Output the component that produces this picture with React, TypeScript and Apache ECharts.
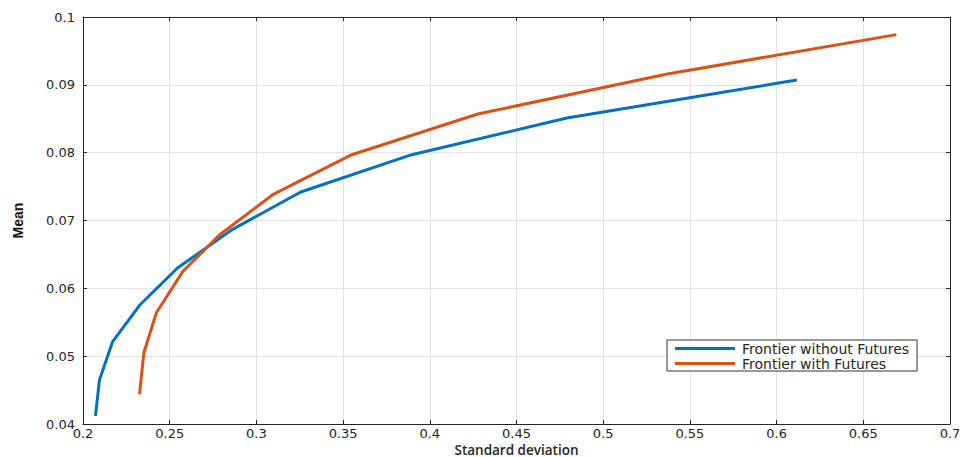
import React, { useEffect, useRef } from "react";
import * as echarts from "echarts";

const sdWithout = [0.2072, 0.2095, 0.217, 0.2326, 0.2545, 0.2863, 0.3256, 0.3896, 0.479, 0.6117];
const meanWithout = [0.0412, 0.0465, 0.0521, 0.0575, 0.063, 0.0687, 0.0742, 0.0797, 0.0851, 0.0907];
const sdWith = [0.2326, 0.2351, 0.2423, 0.2576, 0.2788, 0.31, 0.355, 0.4277, 0.537, 0.6691];
const meanWith = [0.0444, 0.0505, 0.0564, 0.0625, 0.0679, 0.0739, 0.0797, 0.0857, 0.0916, 0.0974];
const seriesNames = ["Frontier without Futures", "Frontier with Futures"];
const xTitle = "Standard deviation";
const yTitle = "Mean";

const pairs = (xs: number[], ys: number[]) => xs.map((x, i) => [x, ys[i]]);

const tickFont = { fontFamily: "DejaVu Sans", fontSize: 13, color: "#262626" };
const axisColor = "#262626";

export default function App() {
  const ref = useRef<HTMLDivElement>(null);
  useEffect(() => {
    if (!ref.current) return;
    const chart = echarts.init(ref.current, undefined, { renderer: "svg" });
    const xBase = {
      type: "value" as const,
      min: 0.2,
      max: 0.7,
      interval: 0.05,
      axisLine: { show: true, onZero: false, lineStyle: { color: axisColor, width: 1 } },
      axisTick: { show: true, inside: true, length: 4, lineStyle: { color: axisColor } },
    };
    const yBase = {
      type: "value" as const,
      min: 0.04,
      max: 0.1,
      interval: 0.01,
      axisLine: { show: true, onZero: false, lineStyle: { color: axisColor, width: 1 } },
      axisTick: { show: true, inside: true, length: 4, lineStyle: { color: axisColor } },
    };
    chart.setOption({
      animation: false,
      backgroundColor: "#ffffff",
      grid: { left: 83, right: 10, top: 17, bottom: 33, containLabel: false, outerBoundsMode: "none" },
      xAxis: [
        {
          ...xBase,
          position: "bottom",
          name: xTitle,
          nameLocation: "middle",
          nameGap: 19,
          nameMoveOverlap: false,
          nameTextStyle: { fontFamily: "Open Sans", fontWeight: 600, fontSize: 13.5, lineHeight: 13, color: "#262626" },
          axisLabel: { ...tickFont, lineHeight: 13, margin: 3 },
          splitLine: { show: true, lineStyle: { color: "#e3e3e3", width: 1 } },
        },
        {
          ...xBase,
          position: "top",
          axisLabel: { show: false },
          splitLine: { show: false },
        },
      ],
      yAxis: [
        {
          ...yBase,
          position: "left",
          name: yTitle,
          nameLocation: "middle",
          nameGap: 58,
          nameMoveOverlap: false,
          nameTextStyle: {
            fontFamily: "'Liberation Sans Narrow', 'Arial Narrow', sans-serif",
            fontWeight: "bold",
            fontSize: 14,
            color: "#111",
          },
          axisLabel: { ...tickFont, margin: 8 },
          splitLine: { show: true, lineStyle: { color: "#e3e3e3", width: 1 } },
        },
        {
          ...yBase,
          position: "right",
          axisLabel: { show: false },
          splitLine: { show: false },
        },
      ],
      legend: {
        orient: "vertical",
        left: 667,
        top: 340,
        padding: [1, 8, 0, 8],
        itemGap: 0,
        itemWidth: 60,
        itemHeight: 3,
        icon: "rect",
        borderColor: "#333",
        borderWidth: 1,
        backgroundColor: "#fff",
        textStyle: { fontFamily: "DejaVu Sans", fontSize: 14, color: "#262626", lineHeight: 15, padding: [0, 0, 0, 2] },
        data: seriesNames,
      },
      series: [
        {
          name: seriesNames[0],
          type: "line",
          data: pairs(sdWithout, meanWithout),
          showSymbol: false,
          symbol: "none",
          lineStyle: { color: "#0072BD", width: 3 },
          itemStyle: { color: "#0072BD" },
        },
        {
          name: seriesNames[1],
          type: "line",
          data: pairs(sdWith, meanWith),
          showSymbol: false,
          symbol: "none",
          lineStyle: { color: "#D95319", width: 3 },
          itemStyle: { color: "#D95319" },
        },
      ],
    });
    return () => chart.dispose();
  }, []);
  return <div ref={ref} style={{ width: 960, height: 457, position: "absolute", left: 0, top: 0 }} />;
}
